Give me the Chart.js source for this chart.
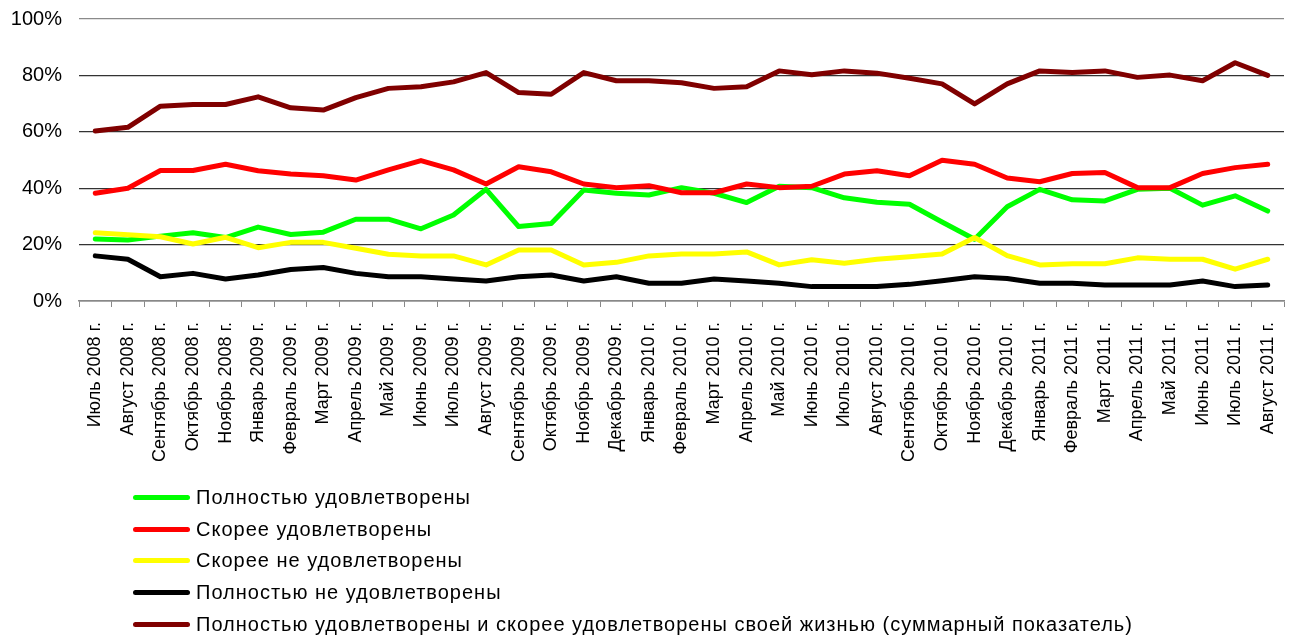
<!DOCTYPE html>
<html>
<head>
<meta charset="utf-8">
<script src="https://cdn.jsdelivr.net/npm/chart.js@4/dist/chart.umd.min.js"></script>
<style>
  html, body { margin: 0; padding: 0; background: #fff; }
  #wrap { position: relative; width: 1295px; height: 637px; }
  #legend { position: absolute; left: 133px; top: 482px; font-family: "Liberation Sans", Arial, sans-serif; font-size: 20px; letter-spacing: 1px; color: #000; }
  #legend .row { height: 31.6px; display: flex; align-items: center; white-space: nowrap; }
  #legend .swatch { display: inline-block; width: 57px; height: 5px; border-radius: 3px; margin-right: 6px; }
</style>
</head>
<body>
<div id="wrap">
  <canvas id="satisfactionChart" width="1295" height="637"></canvas>
  <div id="legend"></div>
</div>
<script>
// month labels (no December 2008 in the survey)
const months = [
    'Июль 2008 г.', 'Август 2008 г.', 'Сентябрь 2008 г.', 'Октябрь 2008 г.', 'Ноябрь 2008 г.',
    'Январь 2009 г.', 'Февраль 2009 г.', 'Март 2009 г.', 'Апрель 2009 г.', 'Май 2009 г.',
    'Июнь 2009 г.', 'Июль 2009 г.', 'Август 2009 г.', 'Сентябрь 2009 г.', 'Октябрь 2009 г.',
    'Ноябрь 2009 г.', 'Декабрь 2009 г.', 'Январь 2010 г.', 'Февраль 2010 г.', 'Март 2010 г.',
    'Апрель 2010 г.', 'Май 2010 г.', 'Июнь 2010 г.', 'Июль 2010 г.', 'Август 2010 г.',
    'Сентябрь 2010 г.', 'Октябрь 2010 г.', 'Ноябрь 2010 г.', 'Декабрь 2010 г.', 'Январь 2011 г.',
    'Февраль 2011 г.', 'Март 2011 г.', 'Апрель 2011 г.', 'Май 2011 г.', 'Июнь 2011 г.',
    'Июль 2011 г.', 'Август 2011 г.'
];

const fullySatisfied = [22, 21.6, 23, 24.2, 22.5, 26.2, 23.6, 24.4, 29, 29, 25.6, 30.5, 39.6, 26.4, 27.5, 39.4, 38.2, 37.6, 40.2, 38.2, 34.9, 40.7, 40.2, 36.6, 35, 34.3, 28, 21.9, 33.4, 39.6, 35.9, 35.5, 39.6, 40, 34, 37.3, 31.9];
const ratherSatisfied = [38.2, 40, 46.3, 46.3, 48.5, 46.2, 45, 44.4, 42.9, 46.5, 49.8, 46.5, 41.5, 47.6, 45.8, 41.5, 40.2, 40.9, 38.4, 38.4, 41.5, 40.2, 40.7, 45, 46.2, 44.4, 49.9, 48.5, 43.6, 42.3, 45.2, 45.6, 40.2, 40.2, 45.2, 47.3, 48.5];
const ratherNotSatisfied = [24.2, 23.5, 22.8, 20.2, 22.6, 18.9, 20.8, 20.8, 18.7, 16.6, 16, 16, 12.8, 18.1, 18.1, 12.8, 13.7, 16, 16.7, 16.7, 17.4, 12.8, 14.6, 13.4, 14.8, 15.7, 16.7, 22.5, 16.1, 12.8, 13.2, 13.2, 15.3, 14.8, 14.8, 11.3, 14.8];
const notSatisfied = [16, 14.8, 8.6, 9.8, 7.8, 9.2, 11.2, 11.9, 9.8, 8.6, 8.6, 7.8, 7.1, 8.6, 9.2, 7.1, 8.6, 6.3, 6.3, 7.8, 7.1, 6.3, 5.1, 5.1, 5.1, 5.9, 7.2, 8.6, 8, 6.3, 6.3, 5.7, 5.7, 5.7, 7.1, 5.1, 5.7];
const totalSatisfied = [60.3, 61.6, 69.1, 69.7, 69.7, 72.4, 68.5, 67.7, 72.1, 75.4, 76, 77.7, 81, 73.9, 73.3, 81, 78.1, 78.1, 77.4, 75.4, 76, 81.6, 80.2, 81.6, 80.8, 79, 77, 69.9, 77, 81.6, 81, 81.6, 79.3, 80.1, 78.1, 84.5, 80];

const yTicks = [0, 20, 40, 60, 80, 100];

function makeLine(label, data, color, order) {
    return {
        label: label,
        data: data,
        borderColor: color,
        backgroundColor: color,
        borderWidth: 5,
        pointRadius: 0,
        tension: 0,
        borderJoinStyle: 'round',
        borderCapStyle: 'round',
        order: order,
    };
}

const ctx = document.getElementById('satisfactionChart').getContext('2d');
const chart = new Chart(ctx, {
    type: 'line',
    data: {
        labels: months,
        datasets: [
            makeLine('Полностью удовлетворены', fullySatisfied, '#00ff00', 5),
            makeLine('Скорее удовлетворены', ratherSatisfied, '#ff0000', 4),
            makeLine('Скорее не удовлетворены', ratherNotSatisfied, '#ffff00', 3),
            makeLine('Полностью не удовлетворены', notSatisfied, '#000000', 2),
            makeLine('Полностью удовлетворены и скорее удовлетворены своей жизнью (суммарный показатель)', totalSatisfied, '#800000', 1),
        ]
    },
    options: {
        responsive: false,
        animation: false,
        layout: { padding: { top: 19, right: 11, bottom: 156, left: 0 } },
        plugins: {
            legend: { display: false },
            tooltip: { enabled: false },
        },
        scales: {
            x: {
                offset: true,
                grid: { offset: true, drawOnChartArea: false, drawTicks: true, tickLength: 6, color: '#888' },
                border: { display: true, color: '#888', width: 1.5 },
                ticks: {
                    autoSkip: false,
                    maxRotation: 90,
                    minRotation: 90,
                    padding: 15,
                    color: '#000',
                    font: { family: '"Liberation Sans", Arial, sans-serif', size: 18 },
                },
                afterFit: scale => {
                    scale.height = 180;
                    scale.paddingLeft = 0;
                    scale.paddingRight = 0;
                },
            },
            y: {
                min: 0,
                max: 100,
                afterBuildTicks: scale => { scale.ticks = yTicks.map(v => ({ value: v })); },
                grid: {
                    drawTicks: false,
                    color: c => (c.tick && c.tick.value === 100) ? '#8a8a8a' : '#333',
                    lineWidth: 1.2,
                },
                border: { display: false },
                ticks: {
                    padding: 17,
                    color: '#000',
                    font: { family: '"Liberation Sans", Arial, sans-serif', size: 20 },
                    callback: v => v + '%',
                },
                afterFit: scale => {
                    scale.width = 79;
                    scale.paddingTop = 0;
                    scale.paddingBottom = 0;
                },
            }
        }
    }
});

// legend as a vertical list under the axis, built from the datasets
const legendBox = document.getElementById('legend');
chart.data.datasets.forEach(ds => {
    const row = document.createElement('div');
    row.className = 'row';
    const sw = document.createElement('span');
    sw.className = 'swatch';
    sw.style.background = ds.borderColor;
    const txt = document.createElement('span');
    txt.textContent = ds.label;
    row.appendChild(sw);
    row.appendChild(txt);
    legendBox.appendChild(row);
});
</script>
</body>
</html>
